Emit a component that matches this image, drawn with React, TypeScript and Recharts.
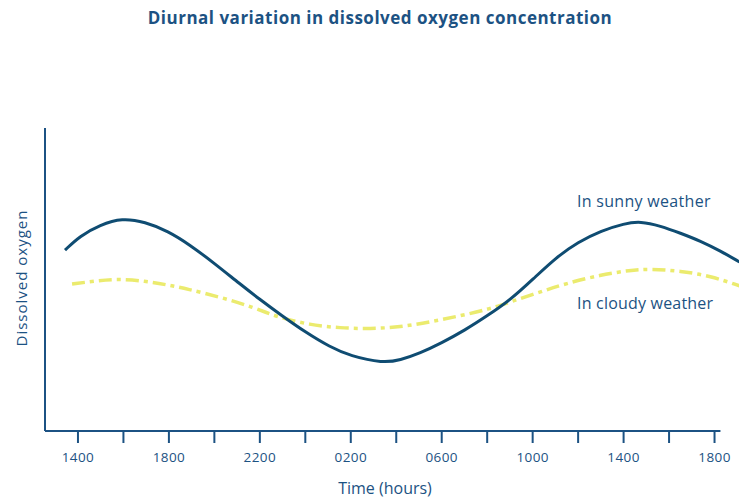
import { LineChart, Line, XAxis, YAxis, ReferenceLine } from 'recharts';

// hours counted from midnight of day 1 (14 = 1400, 26 = 0200 next day)
const sunnyHours = [13.43, 14.09, 14.97, 15.94, 16.95, 17.96, 18.93, 19.99, 21.13, 21.97, 22.98, 23.99, 25.09, 25.97, 27.42, 28.17, 29.05, 29.98, 31.03, 32.0, 33.01, 34.03, 35.0, 36.01, 36.98, 38.04, 38.74, 39.62, 40.5, 41.38, 42.26, 43.1];
const sunnyOxygen = [59.7, 64.4, 68.0, 70.3, 69.0, 66.0, 61.4, 55.4, 48.5, 43.6, 38.0, 32.7, 27.7, 24.8, 22.4, 23.4, 25.7, 29.0, 33.3, 38.0, 43.2, 50.2, 57.1, 62.4, 66.0, 68.5, 69.2, 67.7, 65.3, 62.7, 59.4, 55.8];

const cloudyHours = [13.74, 14.75, 15.76, 16.95, 17.96, 18.8, 20.25, 21.7, 22.76, 24.21, 25.53, 26.85, 28.17, 29.49, 30.81, 32.13, 33.01, 34.33, 35.52, 36.97, 38.3, 39.18, 40.5, 41.82, 43.1];
const cloudyOxygen = [48.5, 49.5, 50.2, 49.5, 48.2, 46.9, 44.2, 40.9, 37.6, 35.0, 34.0, 33.7, 34.3, 36.0, 38.0, 40.3, 42.6, 45.9, 48.8, 51.5, 53.1, 53.5, 52.8, 51.2, 47.9];

const tickHours = [14, 16, 18, 20, 22, 24, 26, 28, 30, 32, 34, 36, 38, 40, 42];
const tickLabels = ['1400', '', '1800', '', '2200', '', '0200', '', '0600', '', '1000', '', '1400', '', '1800'];

const sunny = sunnyHours.map((h, i) => ({ h, v: sunnyOxygen[i] }));
const cloudy = cloudyHours.map((h, i) => ({ h, v: cloudyOxygen[i] }));

const blue = '#1c5283';
const font = '"Open Sans", sans-serif';

export default function App() {
  return (
    <div style={{ position: 'fixed', left: 0, top: 0, width: 739, height: 498, overflow: 'hidden', background: '#fff', fontFamily: font }}>
      <div style={{ position: 'absolute', left: 380, top: 8, transform: 'translateX(-50%)', whiteSpace: 'nowrap', fontSize: 17, letterSpacing: 0.5, fontWeight: 700, color: blue, lineHeight: '20px' }}>
        Diurnal variation in dissolved oxygen concentration
      </div>
      <LineChart width={760} height={498} margin={{ top: 128, right: 0, bottom: 37, left: 44 }}>
        <XAxis
          dataKey="h"
          type="number"
          domain={[12.55, 44]}
          allowDataOverflow
          ticks={tickHours}
          tickFormatter={(h: number) => tickLabels[tickHours.indexOf(h)] ?? ''}
          axisLine={false}
          tickLine={{ stroke: blue, strokeWidth: 2 }}
          tickSize={12}
          tickMargin={9}
          height={30}
          tick={{ fill: blue, fontSize: 13.5, fontFamily: font, letterSpacing: 0.4 }}
        />
        <YAxis
          type="number"
          domain={[0, 100]}
          width={1}
          tick={false}
          tickLine={false}
          axisLine={{ stroke: blue, strokeWidth: 2 }}
        />
        <ReferenceLine
          segment={[{ x: 12.55, y: 0 }, { x: 42.26, y: 0 }]}
          stroke={blue}
          strokeWidth={2}
        />
        <Line
          data={cloudy}
          dataKey="v"
          type="basis"
          stroke="#ebeb6e"
          strokeWidth={3.5}
          strokeDasharray="13 5 4 5"
          dot={false}
          isAnimationActive={false}
        />
        <Line
          data={sunny}
          dataKey="v"
          type="basis"
          stroke="#0f4c72"
          strokeWidth={3}
          dot={false}
          isAnimationActive={false}
        />
      </LineChart>
      <div style={{ position: 'absolute', left: 21, top: 278, transform: 'translate(-50%, -50%) rotate(-90deg)', whiteSpace: 'nowrap', fontSize: 15, letterSpacing: 1, color: blue }}>
        Dissolved oxygen
      </div>
      <div style={{ position: 'absolute', left: 385, top: 488, transform: 'translate(-50%, -50%)', whiteSpace: 'nowrap', fontSize: 16, color: blue }}>
        Time (hours)
      </div>
      <div style={{ position: 'absolute', left: 577, top: 201, transform: 'translateY(-50%)', whiteSpace: 'nowrap', fontSize: 16, letterSpacing: 0.3, color: blue }}>
        In sunny weather
      </div>
      <div style={{ position: 'absolute', left: 577, top: 303, transform: 'translateY(-50%)', whiteSpace: 'nowrap', fontSize: 16, letterSpacing: 0.2, color: blue }}>
        In cloudy weather
      </div>
    </div>
  );
}
